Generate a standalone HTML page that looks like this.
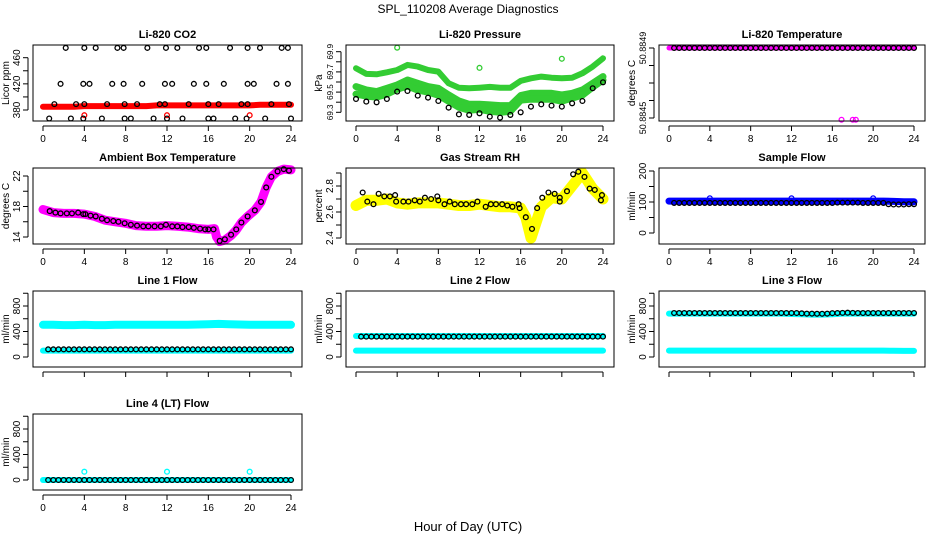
<!DOCTYPE html>
<html><head><meta charset="utf-8">
<style>
html,body{margin:0;padding:0;background:#fff;}
svg{display:block;font-family:"Liberation Sans",sans-serif;}
</style></head>
<body>
<svg id="c" width="936" height="540" viewBox="0 0 936 540" xmlns="http://www.w3.org/2000/svg">
<text x="468" y="13" font-size="12" text-anchor="middle">SPL_110208  Average Diagnostics</text>
<text x="468" y="531" font-size="13" text-anchor="middle">Hour of Day (UTC)</text>
</svg>
<script>
// ---- data ----
const xTicks = [0,4,8,12,16,20,24];
const hrs = [0,1,2,3,4,5,6,7,8,9,10,11,12,13,14,15,16,17,18,19,20,21,22,23,24];
const half = [0.5,1,1.5,2,2.5,3,3.5,4,4.5,5,5.5,6,6.5,7,7.5,8,8.5,9,9.5,10,10.5,11,11.5,12,12.5,13,13.5,14,14.5,15,15.5,16,16.5,17,17.5,18,18.5,19,19.5,20,20.5,21,21.5,22,22.5,23,23.5,24];

// CO2
const co2Red = [385,385,385,385,386,386,386,386,386,386,386,387,387,387,387,387,387,387,387,387,387,388,388,388,388];
const co2RedOutH = [4,12,20];
const co2RedOutV = [372,372,372];
const co2BlackH = [2.2,4.0,5.1,7.2,7.8,10.1,11.9,13.0,15.1,15.8,18.1,19.8,21,23.1,23.7, 1.7,3.9,4.5,6.7,7.8,9.6,11.8,12.5,14.6,15.8,17.5,19.8,20.4,22.6,23.7, 1.1,3.2,4,6.2,7.9,9.1,11.3,11.8,14.1,16,17,19.2,19.8,22.1,23.8, 0.6,2.7,3.9,5.7,7.9,8.5,10.7,12,13.5,16,16.5,18.6,19.7,21.5,24];
const co2BlackV = [475,475,475,475,475,475,475,475,475,475,475,475,475,475,475, 420,420,420,420,420,420,420,420,420,420,420,420,420,420,420, 389,389,389,389,389,389,389,389,389,389,389,389,389,389,389, 367,367,367,367,367,367,367,367,367,367,367,367,367,367,367];

// Pressure
const presTop = [69.736,69.68,69.676,69.696,69.719,69.769,69.752,69.719,69.703,69.587,69.544,69.538,69.544,69.551,69.544,69.544,69.611,69.637,69.653,69.643,69.637,69.643,69.686,69.752,69.835];
const presMid = [69.554,69.521,69.505,69.538,69.571,69.62,69.587,69.554,69.538,69.472,69.412,69.379,69.379,69.373,69.366,69.366,69.465,69.488,69.488,69.488,69.472,69.488,69.521,69.587,69.653];
const presLow = [69.48,69.46,69.45,69.48,69.53,69.56,69.52,69.5,69.47,69.41,69.35,69.32,69.33,69.31,69.3,69.31,69.42,69.43,69.43,69.43,69.41,69.44,69.47,69.55,69.62];
const presBlk = [69.432,69.406,69.399,69.432,69.505,69.511,69.465,69.445,69.412,69.346,69.28,69.274,69.29,69.257,69.247,69.274,69.3,69.356,69.379,69.366,69.356,69.389,69.412,69.538,69.597];
const presOutH = [4,12,20];
const presOutV = [69.94,69.74,69.83];

// Li-820 temperature
const tempTop = [50.8849,50.8849,50.8849,50.8849,50.8849,50.8849,50.8849,50.8849,50.8849,50.8849,50.8849,50.8849,50.8849,50.8849,50.8849,50.8849,50.8849,50.8849,50.8849,50.8849,50.8849,50.8849,50.8849,50.8849,50.8849];
const tempOutH = [16.9,18.0,18.3];
const tempOutV = [50.88449,50.88449,50.88449];

// Ambient
const ambBandH = [0,1,2,3,4,5,6,7,8,9,10,11,12,13,14,15,16,16.6,16.8,17.1,17.6,18.2,18.7,19.2,19.8,20.5,21.1,21.6,22.1,22.7,23.3,24];
const ambBandV = [17.6,17.2,17.1,17.1,17.0,16.7,16.2,16.0,15.8,15.5,15.4,15.4,15.5,15.4,15.3,15.1,15.0,15.1,14.0,13.4,13.6,14.2,14.9,15.9,16.7,17.5,18.6,20.5,21.9,22.6,22.9,22.8];
const ambBlkH = [0.65,1.2,1.7,2.3,2.8,3.4,3.9,4.1,4.6,5.1,5.7,6.2,6.8,7.3,7.9,8.5,9.1,9.7,10.2,10.8,11.4,11.9,12.5,13.0,13.5,14.1,14.6,15.2,15.7,16.0,16.5,17.1,17.6,18.2,18.7,19.2,19.8,20.5,21.1,21.6,22.1,22.7,23.3,23.8];
const ambBlkV = [17.4,17.2,17.1,17.1,17.1,17.2,17.0,17.0,16.8,16.7,16.4,16.2,16.1,16.0,15.8,15.6,15.5,15.4,15.4,15.4,15.4,15.6,15.4,15.4,15.3,15.3,15.2,15.1,15.0,15.0,15.0,13.5,13.7,14.3,15.0,15.9,16.7,17.5,18.6,20.5,21.9,22.6,22.9,22.7];

// RH
const rhBandH = [0,1,2,3,4,5,6,7,8,9,10,11,12,13,14,15,16,16.5,17,17.5,18,19,20,21,22,23,24];
const rhBandV = [2.65,2.69,2.69,2.70,2.67,2.66,2.67,2.67,2.67,2.66,2.65,2.65,2.66,2.65,2.64,2.64,2.63,2.56,2.40,2.52,2.64,2.71,2.70,2.80,2.90,2.78,2.70];
const rhBlkH = [0.65,1.1,1.7,2.2,2.75,3.3,3.8,3.9,4.6,5.1,5.7,6.2,6.7,7.3,7.9,8.0,8.6,9.1,9.6,10.2,10.7,11.3,11.8,12.6,13.1,13.6,14.2,14.7,15.2,15.8,15.9,16.5,17.1,17.6,18.1,18.7,19.3,19.8,19.8,20.5,21.1,21.6,22.2,22.7,23.2,23.8,23.9];
const rhBlkV = [2.75,2.68,2.66,2.74,2.72,2.72,2.73,2.68,2.68,2.68,2.69,2.68,2.71,2.70,2.72,2.69,2.66,2.68,2.66,2.66,2.66,2.66,2.68,2.64,2.66,2.66,2.66,2.65,2.64,2.66,2.63,2.56,2.47,2.63,2.71,2.75,2.74,2.68,2.71,2.76,2.89,2.91,2.87,2.78,2.77,2.69,2.73];

// Sample flow
const sampBlue = [103,103,103,103,103,103,103,103,103,103,103,103,103,103,103,103,103,103,103,103,103,103,102,101,101];
const sampBlk = [97,97,97,97,97,97,97,97,97,97,97,97,97,97,97,97,97,97,97,97,97,97,97,97,97,97,97,97,97,97,97,97,98,98,98,98,98,97,97,97,97,97,93,92,92,92,93,93];
const sampOutH = [4,12,20];
const sampOutV = [112,112,112];

// Line flows
const l1Top = [505,505,500,500,505,500,500,505,505,505,505,505,505,505,505,510,515,520,515,510,505,505,505,505,505];
const l1Low = [100,100,100,100,100,100,100,100,100,100,100,100,100,100,100,100,100,100,100,100,100,100,100,100,100];
const l1Blk = [120,120,120,120,120,120,120,120,120,120,120,120,120,120,120,120,120,120,120,120,120,120,120,120,120,120,120,120,120,120,120,120,120,120,120,120,120,120,120,120,120,120,120,120,120,120,120,120];
const l2Top = [330,330,330,330,330,330,330,330,330,330,330,330,330,330,330,330,330,330,330,330,330,330,330,330,330];
const l2Low = [100,100,100,100,100,100,100,100,100,100,100,100,100,100,100,100,100,100,100,100,100,100,100,100,100];
const l2Blk = [320,320,320,320,320,320,320,320,320,320,320,320,320,320,320,320,320,320,320,320,320,320,320,320,320,320,320,320,320,320,320,320,320,320,320,320,320,320,320,320,320,320,320,320,320,320,320,320];
const l3Top = [680,680,680,680,680,680,680,680,680,680,680,680,675,670,665,665,670,680,680,680,680,680,680,680,680];
const l3Low = [100,100,100,100,100,100,100,100,100,100,100,100,100,100,100,100,100,100,100,100,100,100,98,95,95];
const l3Blk = [690,690,690,690,690,690,690,690,690,690,690,690,690,690,690,690,690,690,690,690,690,690,690,690,690,685,680,680,678,678,680,688,690,692,695,692,690,690,690,690,690,690,690,690,690,690,690,690];
const l4Cyan = [0,0,0,0,0,0,0,0,0,0,0,0,0,0,0,0,0,0,0,0,0,0,0,0,0];
const l4Blk = [0,0,0,0,0,0,0,0,0,0,0,0,0,0,0,0,0,0,0,0,0,0,0,0,0,0,0,0,0,0,0,0,0,0,0,0,0,0,0,0,0,0,0,0,0,0,0,0];
const l4OutH = [4,12,20];
const l4OutV = [130,130,130];

// ---- drawing ----
const NS = "http://www.w3.org/2000/svg";
const svg = document.getElementById('c');
const colL = [33,346,659], colR = [302,614,925];
const rowT = [45,168,291,414], PH = 76;
function mk(tag, attrs, parent){
  const e = document.createElementNS(NS, tag);
  for (const k in attrs) e.setAttribute(k, attrs[k]);
  (parent||svg).appendChild(e);
  return e;
}
function panel(slug, col, row, title, ylab, v1, p1, v2, p2, yt, yl, xlabels, yfs){
  const L = colL[col], R = colR[col], T = rowT[row], B = T + PH;
  const g = mk('g', {});
  
  
  const x = h => (L + 10) + h * ((R - 11) - (L + 10)) / 24;
  const y = v => T + p1 + (v - v1) * (p2 - p1) / (v2 - v1);
  const marks = mk('g', {}, g);
  
  
  const box = mk('rect', {x:L, y:T, width:R-L, height:PH, fill:'none', stroke:'#000', 'stroke-width':1}, g);
  
  
  const tt = mk('text', {x:(L+R)/2, y:T-7, 'font-size':11, 'font-weight':'bold', 'text-anchor':'middle'}, g);
  tt.textContent = title;
  
  
  const yt2 = mk('text', {transform:`translate(${L-24},${T+PH/2}) rotate(-90)`, 'font-size':10, 'text-anchor':'middle'}, g);
  yt2.textContent = ylab;
  
  
  mk('line', {x1:x(0), x2:x(24), y1:B+5, y2:B+5, stroke:'#000'}, g);
  xTicks.forEach(t => {
    mk('line', {x1:x(t), x2:x(t), y1:B+5, y2:B+10, stroke:'#000'}, g);
    if (xlabels){
      const tx = mk('text', {x:x(t), y:B+21, 'font-size':10, 'text-anchor':'middle'}, g);
      tx.textContent = t;
      
      
    }
  });
  mk('line', {x1:L-5, x2:L-5, y1:y(yt[0]), y2:y(yt[yt.length-1]), stroke:'#000'}, g);
  yt.forEach(t => mk('line', {x1:L-10, x2:L-5, y1:y(t), y2:y(t), stroke:'#000'}, g));
  yl.forEach(t => {
    const tx = mk('text', {transform:`translate(${L-13},${y(t)}) rotate(-90)`, 'font-size':yfs||10, 'text-anchor':'middle'}, g);
    tx.textContent = t;
    
    
  });
  return {x, y, g:marks};
}
function band(p, hs, vs, color, w, name){
  const pts = hs.map((h,i) => p.x(h).toFixed(1) + ',' + p.y(vs[i]).toFixed(1)).join(' ');
  const e = mk('polyline', {points:pts, fill:'none', stroke:color, 'stroke-width':w, 'stroke-linejoin':'round', 'stroke-linecap':'round'}, p.g);
  
  
}
function pts(p, hs, vs, color, name){
  hs.forEach((h,i) => {
    const e = mk('circle', {cx:p.x(h), cy:p.y(vs[i]), r:2.4, fill:'none', stroke:color, 'stroke-width':1.3}, p.g);
    
    
  });
}

// CO2
let p = panel('co2', 0, 0, 'Li-820 CO2', 'Licor ppm', 380, 65, 460, 12.7, [380,400,420,440,460], [380,420,460], true);
band(p, hrs, co2Red, '#ff0000', 6, 'co2-red-band');
pts(p, co2RedOutH, co2RedOutV, '#ff0000', 'co2-red-point');
pts(p, co2BlackH, co2BlackV, '#000', 'co2-black-point');

// Pressure
p = panel('pressure', 1, 0, 'Li-820 Pressure', 'kPa', 69.3, 67.3, 69.9, 6.7, [69.3,69.4,69.5,69.6,69.7,69.8,69.9], [69.3,69.5,69.7,69.9], true, 8);
band(p, hrs, presTop, '#33cc33', 6, 'pressure-green-top');
band(p, hrs, presMid, '#33cc33', 7, 'pressure-green-mid');
band(p, hrs, presLow, '#33cc33', 7, 'pressure-green-low');
pts(p, presOutH, presOutV, '#33cc33', 'pressure-green-outlier');
pts(p, hrs, presBlk, '#000', 'pressure-black-point');

// Li temp
p = panel('li-temp', 2, 0, 'Li-820 Temperature', 'degrees C', 50.8845, 73, 50.8849, 3, [50.8845,50.8846,50.8847,50.8848,50.8849], [50.8845,50.8849], true, 9);
band(p, hrs, tempTop, '#ff00ff', 5, 'li-temp-magenta');
pts(p, tempOutH, tempOutV, '#ff00ff', 'li-temp-magenta-outlier');
pts(p, half, half.map(()=>tempTop[0]), '#000', 'li-temp-black-point');

// Ambient
p = panel('ambient', 0, 1, 'Ambient Box Temperature', 'degrees C', 14, 69, 22, 8, [14,16,18,20,22], [14,18,22], true);
band(p, ambBandH, ambBandV, '#ff00ff', 9, 'ambient-magenta-band');
pts(p, ambBlkH, ambBlkV, '#000', 'ambient-black-point');

// RH
p = panel('rh', 1, 1, 'Gas Stream RH', 'percent', 2.4, 70, 2.8, 18, [2.4,2.5,2.6,2.7,2.8,2.9], [2.4,2.6,2.8], true);
band(p, rhBandH, rhBandV, '#ffff00', 11, 'rh-yellow-band');
pts(p, rhBlkH, rhBlkV, '#000', 'rh-black-point');

// Sample flow
p = panel('sample-flow', 2, 1, 'Sample Flow', 'ml/min', 0, 65, 200, 3, [0,50,100,150,200], [0,100,200], true);
band(p, hrs, sampBlue, '#0000ff', 7, 'sample-blue-band');
pts(p, sampOutH, sampOutV, '#0000ff', 'sample-blue-outlier');
pts(p, half, sampBlk, '#000', 'sample-black-point');

// Line flows
const fT = [0,200,400,600,800,1000], fL = [0,400,800];
p = panel('line1', 0, 2, 'Line 1 Flow', 'ml/min', 0, 66, 800, 15, fT, fL, false);
band(p, hrs, l1Top, '#00ffff', 8, 'line1-cyan-top');
band(p, hrs, l1Low, '#00ffff', 6, 'line1-cyan-low');
pts(p, half, l1Blk, '#000', 'line1-black-point');

p = panel('line2', 1, 2, 'Line 2 Flow', 'ml/min', 0, 66, 800, 15, fT, fL, false);
band(p, hrs, l2Top, '#00ffff', 6, 'line2-cyan-top');
band(p, hrs, l2Low, '#00ffff', 6, 'line2-cyan-low');
pts(p, half, l2Blk, '#000', 'line2-black-point');

p = panel('line3', 2, 2, 'Line 3 Flow', 'ml/min', 0, 66, 800, 15, fT, fL, false);
band(p, hrs, l3Top, '#00ffff', 6, 'line3-cyan-top');
band(p, hrs, l3Low, '#00ffff', 6, 'line3-cyan-low');
pts(p, half, l3Blk, '#000', 'line3-black-point');

p = panel('line4', 0, 3, 'Line 4 (LT) Flow', 'ml/min', 0, 66, 800, 15, fT, fL, true);
band(p, hrs, l4Cyan, '#00ffff', 6, 'line4-cyan');
pts(p, l4OutH, l4OutV, '#00ffff', 'line4-cyan-outlier');
pts(p, half, l4Blk, '#000', 'line4-black-point');
</script>
</body></html>
